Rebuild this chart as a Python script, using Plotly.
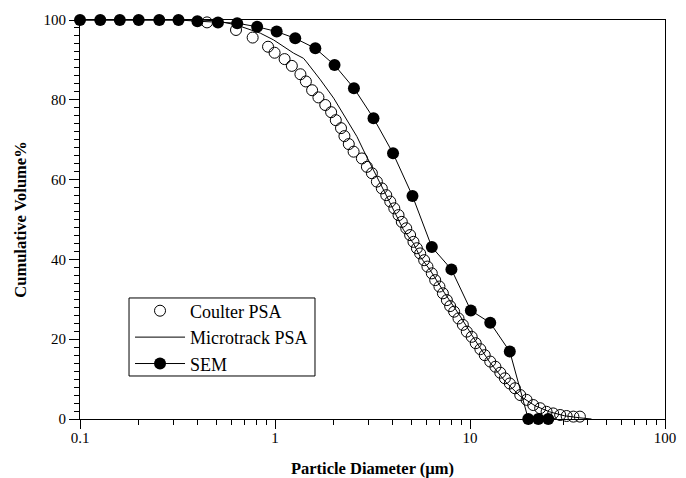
import plotly.graph_objects as go

# ---- data ----
coulter_x = [0.448, 0.631, 0.768, 0.921, 0.995, 1.12, 1.22, 1.35, 1.44, 1.55, 1.67, 1.81,
             1.94, 2.05, 2.18, 2.27, 2.39, 2.53, 2.79, 2.96, 3.14, 3.33, 3.53, 3.72, 3.90,
             4.09, 4.30, 4.47, 4.71, 4.93, 5.13, 5.34, 5.55, 5.82, 6.05, 6.37, 6.63, 6.97,
             7.26, 7.61, 7.91, 8.29, 8.73, 9.19, 9.63, 10.2, 10.7, 11.3, 11.9, 12.7, 13.5,
             14.3, 15.1, 16.0, 17.0, 18.1, 19.5, 21.1, 22.9, 24.7, 26.7, 29.0, 31.3, 33.9, 36.6]
coulter_y = [99.4, 97.5, 95.6, 93.3, 91.8, 90.2, 88.5, 86.4, 84.6, 82.4, 80.6, 78.7,
             76.9, 74.9, 72.9, 70.9, 68.9, 67.0, 65.3, 63.2, 61.6, 59.5, 57.8, 56.1, 54.5,
             52.8, 51.1, 49.4, 47.8, 46.1, 44.4, 42.8, 41.5, 39.8, 38.2, 36.5, 34.8, 33.2,
             31.5, 29.8, 28.3, 26.9, 25.2, 23.6, 21.9, 20.6, 19.0, 17.5, 16.0, 14.4, 13.1,
             11.6, 10.2, 8.9, 7.7, 6.0, 4.8, 3.5, 2.7, 1.8, 1.4, 1.0, 0.75, 0.6, 0.6]

micro_x = [0.1, 0.4, 0.505, 0.639, 0.841, 0.984, 1.245, 1.40, 1.45, 1.71, 2.0, 2.34, 2.63,
           2.84, 3.08, 3.39, 3.75, 4.13, 4.56, 5.13, 5.55, 6.25, 7.4, 8.9, 10.6, 12.6, 15.1,
           18.0, 21.6, 25.6, 30.5, 36.5, 42]
micro_y = [100, 100, 99.8, 98.7, 96.7, 95.0, 91.7, 90.4, 89.5, 85.0, 80.4, 74.9, 70.8,
           67.4, 64.1, 59.9, 55.7, 51.6, 47.4, 44.0, 40.7, 37.3, 31.6, 25.8, 19.8, 14.3, 9.5,
           5.8, 3.3, 1.8, 0.8, 0.3, 0]

sem_x = [0.1, 0.127, 0.16, 0.2, 0.255, 0.32, 0.40, 0.51, 0.64, 0.81, 1.02, 1.27, 1.61,
         2.02, 2.54, 3.2, 4.03, 5.07, 6.37, 8.03, 10.1, 12.7, 16.0, 19.9, 22.4, 25.2]
sem_y = [100, 100, 100, 100, 100, 100, 99.7, 99.4, 99.2, 98.3, 97.1, 95.4, 92.9,
         88.7, 82.9, 75.4, 66.6, 55.9, 43.1, 37.5, 27.2, 24.1, 16.9, 0, 0, 0]

x_tickvals = [0.1, 1, 10, 100]
x_ticktext = ["0.1", "1", "10", "100"]
x_minor = [m * d for d in (0.1, 1, 10) for m in range(2, 10)]

FONT = "Liberation Serif, Times New Roman, serif"

fig = go.Figure()
fig.add_trace(go.Scatter(
    x=coulter_x, y=coulter_y, mode="markers", name="Coulter PSA",
    marker=dict(symbol="circle-open", size=11, color="black", line=dict(width=1, color="black")),
    cliponaxis=False))
fig.add_trace(go.Scatter(
    x=micro_x, y=micro_y, mode="lines", name="Microtrack PSA",
    line=dict(color="black", width=1), cliponaxis=False))
fig.add_trace(go.Scatter(
    x=sem_x, y=sem_y, mode="lines+markers", name="SEM",
    line=dict(color="black", width=1),
    marker=dict(symbol="circle", size=12, color="black"), cliponaxis=False))

# legend frame
fig.add_shape(type="rect", xref="paper", yref="paper",
              x0=0.0838, x1=0.4017, y0=0.1078, y1=0.3033,
              line=dict(color="black", width=1), fillcolor="rgba(0,0,0,0)", layer="above")

fig.update_layout(
    width=686, height=478,
    margin=dict(l=80, r=21, t=20, b=59, autoexpand=False),
    paper_bgcolor="white", plot_bgcolor="white",
    font=dict(family=FONT, size=15, color="black"),
    showlegend=True,
    legend=dict(x=0.0855, y=0.317, xanchor="left", yanchor="top",
                borderwidth=0, bgcolor="rgba(0,0,0,0)",
                font=dict(family=FONT, size=18, color="black"),
                itemwidth=50, tracegroupgap=0),
    xaxis=dict(
        type="log", range=[-1, 2], automargin=False,
        tickmode="array", tickvals=x_tickvals, ticktext=x_ticktext,
        ticks="outside", ticklen=9, tickwidth=1, tickcolor="black",
        ticklabelstandoff=-4,
        minor=dict(tickmode="array", tickvals=x_minor, ticks="outside", ticklen=5,
                   tickwidth=1, tickcolor="black", showgrid=False),
        showgrid=False, zeroline=False,
        showline=True, linecolor="black", linewidth=1, mirror=True,
        tickfont=dict(family=FONT, size=15),
        title=dict(text="<b>Particle Diameter (µm)</b>", font=dict(family=FONT, size=16.5),
                   standoff=22),
    ),
    yaxis=dict(
        range=[0, 100], tickmode="linear", tick0=0, dtick=20, automargin=False,
        ticks="outside", ticklen=10, tickwidth=1, tickcolor="black",
        minor=dict(dtick=2, ticks="outside", ticklen=5, tickwidth=1, tickcolor="black",
                   showgrid=False),
        showgrid=False, zeroline=False,
        showline=True, linecolor="black", linewidth=1, mirror=True,
        tickfont=dict(family=FONT, size=15),
        title=dict(text="<b>Cumulative Volume%</b>", font=dict(family=FONT, size=16.5),
                   standoff=12),
    ),
)

fig.write_html("out.html", config={"displayModeBar": False},
               post_script="document.body.style.margin='0';document.body.style.padding='0';")
